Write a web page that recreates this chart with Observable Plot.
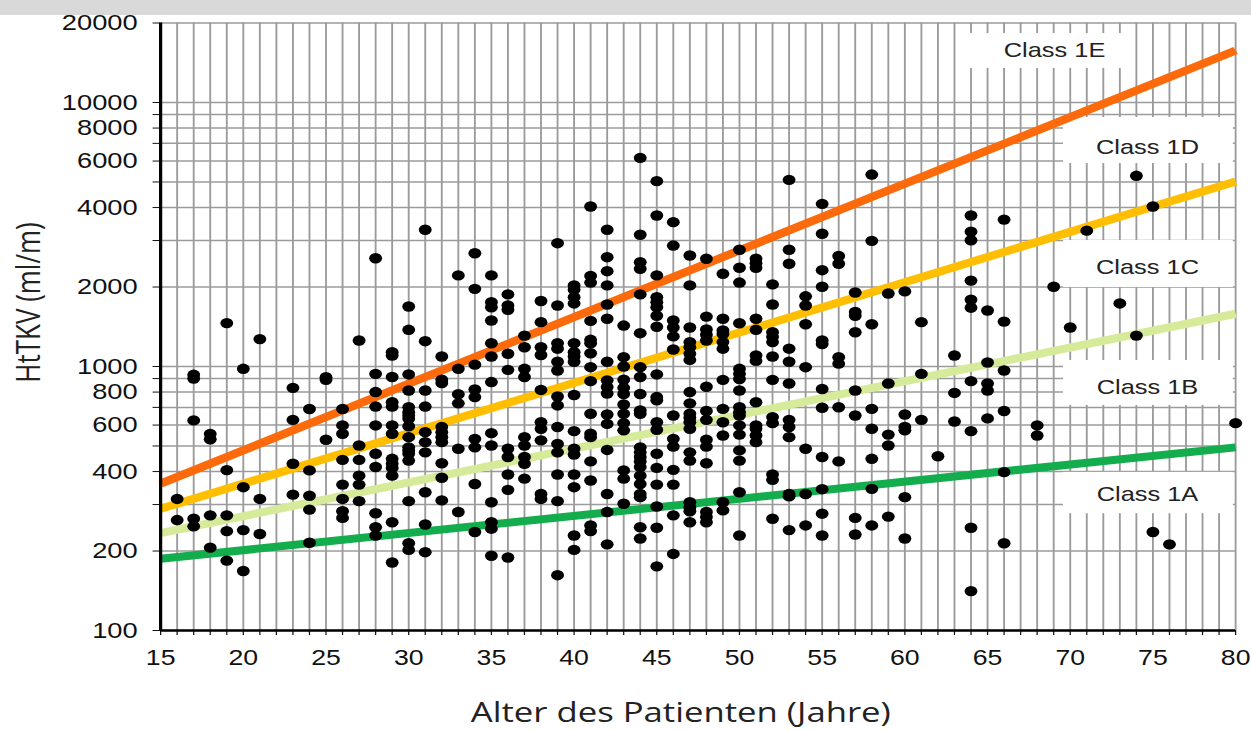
<!DOCTYPE html>
<html>
<head>
<meta charset="utf-8">
<script src="https://cdn.jsdelivr.net/npm/d3@7"></script>
<script src="https://cdn.jsdelivr.net/npm/@observablehq/plot@0.6"></script>
<style>
html, body { margin: 0; padding: 0; background: #fff; width: 1251px; height: 730px; overflow: hidden; }
#chart { position: absolute; left: 0; top: 0; }
#band { position: absolute; left: 0; top: 0; width: 1251px; height: 15px; background: #d9d9d9; }
</style>
</head>
<body>
<div id="chart"></div>
<div id="band"></div>
<script>
// ---------- data ----------
// patients: [age in years, HtTKV values (ml/m) of the patients at that age]
const patientsByAge = [
  [16, [315, 262]],
  [17, [930, 900, 625, 265, 248]],
  [18, [555, 530, 273, 206]],
  [19, [1460, 405, 273, 238, 184]],
  [20, [980, 349, 240, 168]],
  [21, [1270, 315, 232]],
  [23, [830, 628, 428, 327]],
  [24, [690, 404, 324, 287, 215]],
  [25, [910, 890, 528]],
  [26, [690, 598, 556, 443, 357, 315, 283, 267]],
  [27, [1254, 502, 443, 386, 357, 309]],
  [28, [2570, 938, 800, 705, 598, 467, 416, 278, 246, 229]],
  [29, [1132, 1101, 912, 732, 705, 598, 556, 447, 428, 413, 386, 257, 181]],
  [30, [1688, 1377, 933, 811, 701, 671, 652, 634, 594, 540, 494, 481, 467, 440, 309, 214, 202]],
  [31, [3296, 1247, 811, 705, 564, 517, 473, 334, 252, 198]],
  [32, [1091, 891, 865, 590, 564, 540, 517, 430, 379, 311]],
  [33, [2213, 980, 785, 725, 488, 281]],
  [34, [2686, 1968, 1016, 818, 766, 532, 494, 359, 236]],
  [35, [2213, 1753, 1677, 1493, 1225, 1091, 873, 559, 502, 306, 257, 243, 192]],
  [36, [1875, 1702, 1640, 1117, 971, 488, 454, 390, 341, 189]],
  [37, [1309, 1183, 980, 912, 540, 502, 454, 428, 376]],
  [38, [1770, 1472, 1183, 1105, 815, 615, 581, 525, 329, 315]],
  [39, [2931, 1702, 1225, 1168, 1042, 966, 770, 712, 590, 509, 473, 390, 309, 162]],
  [40, [2028, 1954, 1830, 1733, 1225, 1132, 1091, 1042, 780, 569, 488, 464, 390, 349, 229, 202]],
  [41, [4036, 2204, 2079, 1488, 1262, 1225, 1122, 994, 880, 662, 556, 540, 437, 370, 250, 238]],
  [42, [3296, 2594, 2296, 2028, 1717, 1516, 1042, 886, 836, 790, 658, 606, 483, 329, 281, 212]],
  [43, [1429, 1085, 1000, 891, 830, 787, 718, 662, 610, 573, 404, 376, 302]],
  [44, [6166, 3155, 2481, 2345, 1875, 1337, 994, 912, 787, 682, 662, 494, 473, 454, 437, 416, 386, 359, 329, 320, 246, 223]],
  [45, [5035, 3733, 2213, 1830, 1753, 1677, 1556, 1414, 933, 766, 745, 615, 576, 467, 413, 357, 295, 245, 175]],
  [46, [3522, 2871, 1493, 1405, 1300, 1160, 652, 532, 497, 406, 357, 273, 195]],
  [47, [2633, 2028, 1405, 1237, 1183, 1117, 1059, 800, 725, 662, 640, 615, 581, 473, 440, 306, 293, 283, 257]],
  [48, [2558, 1545, 1382, 1320, 1254, 838, 678, 628, 528, 497, 430, 281, 269, 257]],
  [49, [2244, 1516, 1369, 1327, 1237, 1168, 890, 691, 615, 548, 306, 285]],
  [50, [2767, 2365, 2079, 1458, 980, 938, 897, 811, 701, 671, 652, 598, 552, 481, 440, 334, 229]],
  [51, [2558, 2462, 2365, 1516, 1377, 1101, 1050, 732, 598, 581, 548, 517]],
  [52, [2046, 1717, 1348, 1295, 1237, 1091, 890, 643, 610, 390, 372, 265]],
  [53, [5092, 2767, 2449, 1168, 1042, 862, 628, 590, 540, 329, 322, 240]],
  [54, [1844, 1702, 1445, 994, 488, 329, 250]],
  [55, [4130, 3183, 2316, 2005, 1254, 1217, 822, 698, 454, 343, 277, 229]],
  [56, [2620, 2449, 1085, 1025, 701, 437]],
  [57, [1907, 1608, 1556, 1348, 811, 652, 267, 231]],
  [58, [5333, 2991, 1445, 691, 581, 447, 344, 250]],
  [59, [1890, 862, 552, 502, 270]],
  [60, [1925, 658, 590, 573, 320, 223]],
  [61, [1472, 938, 628]],
  [62, [457]],
  [63, [1101, 794, 619]],
  [64, [3733, 3240, 3006, 2115, 1790, 1670, 880, 569, 245, 141]],
  [65, [1630, 1035, 862, 811, 636]],
  [66, [3600, 1479, 966, 678, 398, 214]],
  [68, [598, 548]],
  [69, [2005]],
  [70, [1405]],
  [71, [3270]],
  [73, [1733]],
  [74, [5275, 1309]],
  [75, [4036, 236]],
  [76, [212]],
  [80, [610]]
];

// class boundary lines (HtTKV at age 15 and age 80)
const lineAges = [15, 80];
const boundary1A1B = [187, 494];
const boundary1B1C = [234, 1584];
const boundary1C1D = [289, 5020];
const boundary1D1E = [360, 15740];

// class labels
const classNames = ["Class 1E", "Class 1D", "Class 1C", "Class 1B", "Class 1A"];
const classLabelAge = [69.05, 74.67, 74.67, 74.67, 74.67];
const classLabelValue = [15740, 6760, 2371, 833, 327];
// white label boxes behind the class names
const boxAge1 = [63.97, 69.6, 69.6, 69.6, 69.6];
const boxAge2 = [73.83, 79.87, 79.87, 79.87, 79.87];
const boxValue1 = [13460, 5870, 1992, 712, 277];
const boxValue2 = [18240, 8770, 3000, 1054, 397];

// axis ticks
const xTickValues = d3.range(15, 81);
const xLabelValues = [15, 20, 25, 30, 35, 40, 45, 50, 55, 60, 65, 70, 75, 80];
const yTickValues = [100, 200, 300, 400, 500, 600, 700, 800, 900,
  1000, 2000, 3000, 4000, 5000, 6000, 7000, 8000, 9000, 10000, 20000];
const yLabelValues = [100, 200, 400, 600, 800, 1000, 2000, 4000, 6000, 8000, 10000, 20000];

const xTitle = "Alter des Patienten (Jahre)";
const yTitle = "HtTKV (ml/m)";

// ---------- build tables ----------
const points = patientsByAge.flatMap(([age, vals]) => vals.map(v => ({age, v})));
const boundaries = [
  {name: "1A/1B", vals: boundary1A1B, color: "#14ad4e"},
  {name: "1B/1C", vals: boundary1B1C, color: "#d6eb9a"},
  {name: "1C/1D", vals: boundary1C1D, color: "#ffbf00"},
  {name: "1D/1E", vals: boundary1D1E, color: "#fd6a0c"}
];
const labels = classNames.map((t, i) => ({t, x: classLabelAge[i], y: classLabelValue[i]}));
const boxes = classNames.map((t, i) => ({x1: boxAge1[i], x2: boxAge2[i], y1: boxValue1[i], y2: boxValue2[i]}));
const xLabelSet = new Set(xLabelValues);

// The reference picture is horizontally stretched; draw narrower, then stretch.
const OUT_W = 1251, H = 730;
const W0 = 1009;
const SX = OUT_W / W0;
const TICK = 6, PAD = 12.5;

const lineMarks = boundaries.map(b =>
  Plot.line(lineAges.map((a, i) => ({a, v: b.vals[i]})),
    {x: "a", y: "v", stroke: b.color, strokeWidth: 8, strokeLinecap: "butt"}));

const svg = Plot.plot({
  width: W0,
  height: H,
  marginLeft: 160 / SX,
  marginRight: W0 - 1235 / SX,
  marginTop: 22.5,
  marginBottom: 100,
  style: {fontFamily: "'Liberation Sans', Arial, sans-serif", fontSize: "21.5px", color: "#111", background: "transparent", overflow: "visible"},
  x: {domain: [15, 80], ticks: xTickValues, tickFormat: d => xLabelSet.has(d) ? String(d) : "", tickSize: 5, tickPadding: 14, label: null},
  y: {type: "log", domain: [100, 20000], ticks: yTickValues, tickFormat: () => "", tickSize: TICK, tickPadding: PAD, label: null},
  marks: [
    Plot.ruleX(xTickValues, {stroke: "#9b9b9b", strokeWidth: 1.5}),
    Plot.ruleY(yTickValues, {stroke: "#9b9b9b", strokeWidth: 1.5}),
    Plot.rect(boxes, {x1: "x1", x2: "x2", y1: "y1", y2: "y2", fill: "white"}),
    ...lineMarks,
    Plot.ruleX([15], {stroke: "#000", strokeWidth: 2.6}),
    Plot.ruleY([100], {stroke: "#000", strokeWidth: 2.6}),
    Plot.dot(points, {x: "age", y: "v", r: 5.2, fill: "#000", stroke: "none"}),
    Plot.text(yLabelValues, {y: d => d, text: d => String(d), frameAnchor: "left", textAnchor: "end", dx: -(TICK + PAD), fontSize: 22, fill: "#111"}),
    Plot.text(labels, {x: "x", y: "y", text: "t", fontSize: 20.5, fill: "#222", fontFamily: "'Liberation Sans', Arial, sans-serif"}),
    Plot.text([xTitle], {text: d => d, frameAnchor: "bottom", dy: 91, dx: -14, fontSize: 28, fill: "#222", fontFamily: "'Open Sans', sans-serif"}),
    Plot.text([yTitle], {text: d => d, frameAnchor: "left", rotate: -90, dx: 23.4 - 160 / SX, dy: 56, fontSize: 26, fill: "#222", fontFamily: "'Open Sans', sans-serif"})
  ]
});

svg.setAttribute("viewBox", `0 0 ${W0} ${H}`);
svg.setAttribute("width", OUT_W);
svg.setAttribute("height", H);
svg.setAttribute("preserveAspectRatio", "none");
svg.style.width = OUT_W + "px";
svg.style.height = H + "px";
svg.style.maxWidth = "none";
document.getElementById("chart").appendChild(svg);
</script>
</body>
</html>
